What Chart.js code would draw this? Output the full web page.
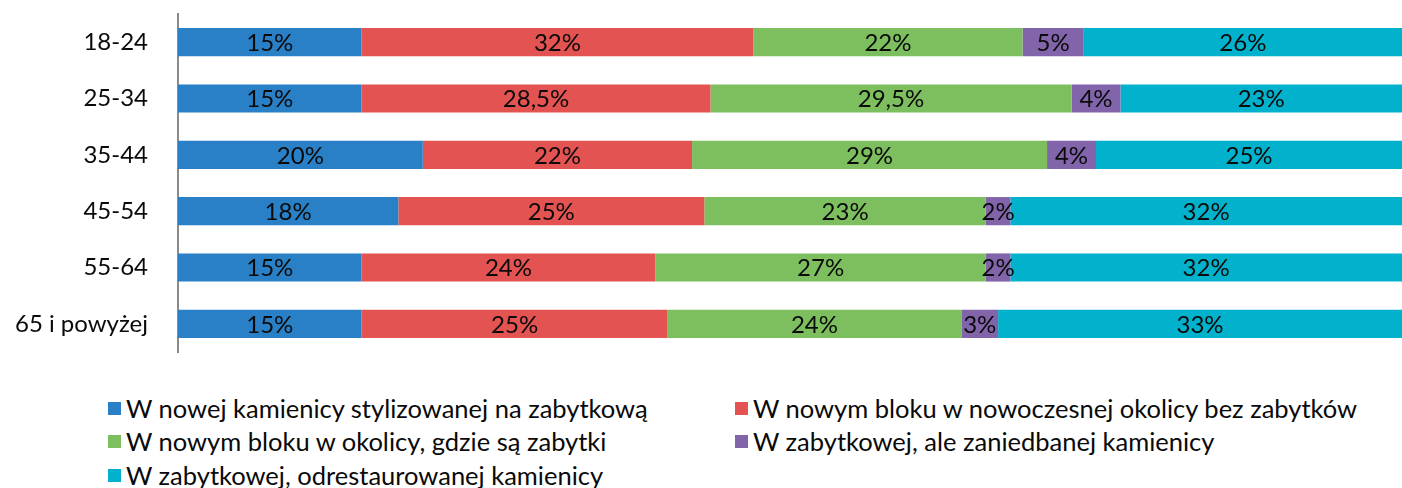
<!DOCTYPE html>
<html lang="pl">
<head>
<meta charset="utf-8">
<title>Preferowane miejsce zamieszkania wg wieku</title>
<script src="https://cdn.jsdelivr.net/npm/chart.js@4/dist/chart.umd.min.js"></script>
<style>
  html, body { margin: 0; padding: 0; background: #fff; }
  body { width: 1402px; height: 488px; overflow: hidden; font-family: Lato, sans-serif; }
  #myChart { display: block; width: 1402px; height: 365px; }
  #legend { position: relative; height: 123px; }
  .item { position: absolute; display: flex; align-items: center; font-size: 25.5px; line-height: 30px; color: #0a0a0a; white-space: nowrap; }
  .box { width: 13px; height: 13px; margin-right: 5px; }
</style>
</head>
<body>
<canvas id="myChart" width="1402" height="365"></canvas>
<div id="legend"></div>
<script>
'use strict';
let ageGroups = ['18-24', '25-34', '35-44', '45-54', '55-64', '65 i powyżej'];
let seriesNames = [
  'W nowej kamienicy stylizowanej na zabytkową',
  'W nowym bloku w nowoczesnej okolicy bez zabytków',
  'W nowym bloku w okolicy, gdzie są zabytki',
  'W zabytkowej, ale zaniedbanej kamienicy',
  'W zabytkowej, odrestaurowanej kamienicy'
];
let newStylized = [15, 15, 20, 18, 15, 15];
let newModern = [32, 28.5, 22, 25, 24, 25];
let newHistoric = [22, 29.5, 29, 23, 27, 24];
let oldNeglected = [5, 4, 4, 2, 2, 3];
let oldRestored = [26, 23, 25, 32, 32, 33];
let colors = ['#2a80c6', '#e35351', '#7dbf5f', '#8264aa', '#02b2cc'];

let allSeries = [newStylized, newModern, newHistoric, oldNeglected, oldRestored];
let datasets = [];
for (let i = 0; i < allSeries.length; i++) {
  datasets.push({
    label: seriesNames[i],
    data: allSeries[i],
    backgroundColor: colors[i],
    borderWidth: 0,
    barPercentage: 0.5,
    categoryPercentage: 1
  });
}

// value labels in the middle of each segment, with a decimal comma
const segmentLabels = {
  id: 'segmentLabels',
  afterDatasetsDraw(chart) {
    let ctx = chart.ctx;
    ctx.save();
    ctx.font = '24px Lato';
    ctx.fillStyle = '#0a0a0a';
    ctx.textAlign = 'center';
    ctx.textBaseline = 'middle';
    chart.data.datasets.forEach((ds, i) => {
      chart.getDatasetMeta(i).data.forEach((bar, j) => {
        let txt = String(ds.data[j]).replace('.', ',') + '%';
        ctx.fillText(txt, (bar.x + bar.base) / 2, bar.y + 1);
      });
    });
    ctx.restore();
  }
};

let ctx = document.getElementById('myChart').getContext('2d');
let myChart = new Chart(ctx, {
  type: 'bar',
  data: { labels: ageGroups, datasets: datasets },
  plugins: [segmentLabels],
  options: {
    indexAxis: 'y',
    responsive: false,
    animation: false,
    layout: { padding: { top: 14, bottom: 13, left: 0, right: 0 } },
    plugins: { legend: { display: false }, tooltip: { enabled: false } },
    scales: {
      x: { stacked: true, min: 0, max: 100, display: false },
      y: {
        stacked: true,
        afterFit(scale) {
          // fixed label column, and no extra vertical room from the tick padding
          scale.width = 178;
          scale.paddingTop = 0;
          scale.paddingBottom = 0;
        },
        grid: { display: false, drawTicks: false },
        border: { display: true, color: '#8a8a8a', width: 2 },
        ticks: { color: '#0a0a0a', font: { family: 'Lato', size: 24 }, padding: 30 }
      }
    }
  }
});

// two-column legend under the chart
let legendEl = document.getElementById('legend');
let spots = [[108, 43], [735, 43], [108, 76], [735, 76], [108, 110]];
for (let i = 0; i < seriesNames.length; i++) {
  let item = document.createElement('div');
  item.className = 'item';
  item.style.left = spots[i][0] + 'px';
  item.style.top = (spots[i][1] - 15) + 'px';
  let box = document.createElement('span');
  box.className = 'box';
  box.style.background = colors[i];
  let txt = document.createElement('span');
  txt.textContent = seriesNames[i];
  item.appendChild(box);
  item.appendChild(txt);
  legendEl.appendChild(item);
}
</script>
</body>
</html>
